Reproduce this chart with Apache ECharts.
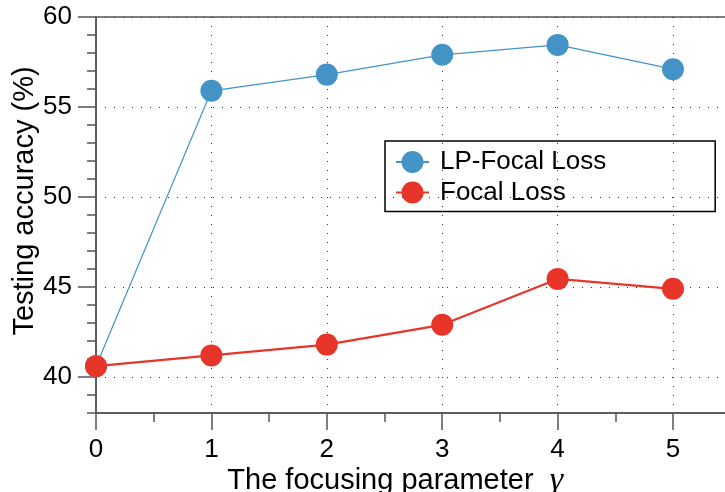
<!DOCTYPE html>
<html>
<head>
<meta charset="utf-8">
<script src="https://cdn.jsdelivr.net/npm/echarts@6/dist/echarts.min.js"></script>
<style>
  html, body { margin: 0; padding: 0; background: #fff; }
  #main { width: 725px; height: 492px; }
</style>
</head>
<body>
<div id="main"></div>
<script>
var gammaValues = [0, 1, 2, 3, 4, 5];
var lpFocalLoss = [40.6, 55.9, 56.8, 57.9, 58.45, 57.1];
var focalLoss = [40.6, 41.2, 41.8, 42.9, 45.45, 44.9];
var yMajorTicks = [40, 45, 50, 55, 60];

var axisColor = '#555';
var gridDots = { color: '#333', width: 1, type: [1, 8] };
var font = 'Liberation Sans, Arial, Helvetica, sans-serif';

var chart = echarts.init(document.getElementById('main'));
var option = {
	animation: false,
	textStyle: { fontFamily: font, color: '#000' },
	grid: {
		left: 96,
		top: 17,
		bottom: 79,
		right: -63.4,
		outerBoundsMode: 'none',
		containLabel: false,
		show: true,
		borderColor: axisColor,
		borderWidth: 1.5,
		backgroundColor: 'transparent'
	},
	legend: {
		left: 385,
		top: 141,
		orient: 'vertical',
		padding: [8, 109, 6, 10],
		itemWidth: 33,
		itemHeight: 27.5,
		itemGap: 4.5,
		borderColor: '#000',
		borderWidth: 1.5,
		textStyle: { fontSize: 26, color: '#000', fontFamily: font, padding: [0, 0, 0, 6] },
		data: ['LP-Focal Loss', 'Focal Loss']
	},
	xAxis: {
		type: 'value',
		min: 0,
		max: 6,
		interval: 1,
		name: 'The focusing parameter  {g|γ}',
		nameLocation: 'middle',
		nameMoveOverlap: false,
		nameGap: 51,
		nameTextStyle: {
			fontSize: 29,
			color: '#000',
			padding: [0, 94, 0, 0],
			rich: {
				g: { fontSize: 34, fontStyle: 'italic', fontFamily: 'Liberation Serif, DejaVu Serif, serif', color: '#000' }
			}
		},
		axisLine: { lineStyle: { color: axisColor, width: 1.5 } },
		axisTick: { length: 17, lineStyle: { color: axisColor, width: 1.5 } },
		minorTick: { show: true, splitNumber: 2, length: 9, lineStyle: { color: axisColor, width: 1.5 } },
		axisLabel: { fontSize: 26, color: '#000', margin: 24 },
		splitLine: { show: true, lineStyle: gridDots }
	},
	yAxis: [{
		type: 'value',
		min: 38,
		max: 60,
		interval: 1,
		name: 'Testing accuracy (%)',
		nameLocation: 'middle',
		nameMoveOverlap: false,
		nameGap: 57,
		nameTextStyle: { fontSize: 29, color: '#000', padding: [0, 0, 0, 28] },
		axisLine: { show: true, lineStyle: { color: axisColor, width: 1.5 } },
		axisTick: { show: true, length: 9, lineStyle: { color: axisColor, width: 1.5 } },
		axisLabel: {
			fontSize: 26,
			color: '#000',
			margin: 24,
			formatter: function (v) { return yMajorTicks.indexOf(v) >= 0 ? String(v) : ''; }
		},
		splitLine: { show: false }
	}, {
		type: 'value',
		position: 'left',
		min: 38,
		max: 60,
		axisLine: { show: false },
		axisTick: { show: true, length: 18, customValues: yMajorTicks, lineStyle: { color: axisColor, width: 1.5 } },
		axisLabel: { show: false, customValues: yMajorTicks },
		splitLine: { show: true, lineStyle: gridDots }
	}],
	series: [{
		name: 'LP-Focal Loss',
		type: 'line',
		data: gammaValues.map(function (g, i) { return [g, lpFocalLoss[i]]; }),
		symbol: 'circle',
		symbolSize: 22,
		itemStyle: { color: '#4393c6' },
		lineStyle: { color: '#4393c6', width: 1.2 }
	}, {
		name: 'Focal Loss',
		type: 'line',
		data: gammaValues.map(function (g, i) { return [g, focalLoss[i]]; }),
		symbol: 'circle',
		symbolSize: 22,
		itemStyle: { color: '#e8352a' },
		lineStyle: { color: '#e8352a', width: 2.2 }
	}]
};
chart.setOption(option);
window.addEventListener('resize', chart.resize);
</script>
</body>
</html>
